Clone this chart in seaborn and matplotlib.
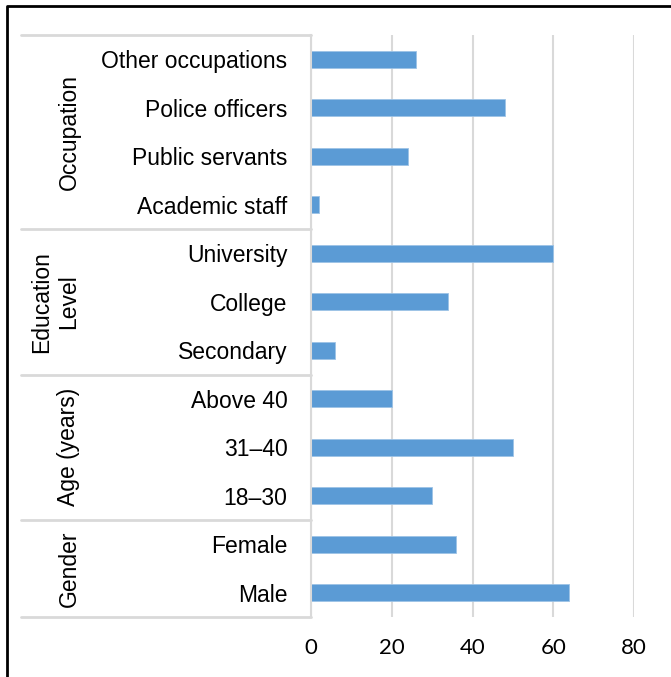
import matplotlib
matplotlib.use("Agg")
import matplotlib.pyplot as plt
import matplotlib.transforms as mtransforms
from matplotlib.lines import Line2D
import seaborn as sns
import pandas as pd

categories = ["Other occupations", "Police officers", "Public servants", "Academic staff",
              "University", "College", "Secondary",
              "Above 40", "31–40", "18–30",
              "Female", "Male"]
values = [26, 48, 24, 2, 60, 34, 6, 20, 50, 30, 36, 64]
groups = ["Occupation", "Education\nLevel", "Age (years)", "Gender"]
group_sizes = [4, 3, 3, 2]
x_ticks = [0, 20, 40, 60, 80]

W, H = 671, 677
sns.set_theme(style="white")
plt.rcParams['font.family'] = ["Liberation Sans", "DejaVu Sans"]
label_size = 16.5

fig = plt.figure(figsize=(W / 100, H / 100), dpi=100)
ax = fig.add_axes([311 / W, 1 - 617 / H, (634 - 311) / W, (617 - 35) / H])

df = pd.DataFrame({"category": categories, "value": values})
sns.barplot(data=df, y="category", x="value", order=categories, orient="h",
            color="#5B9BD5", width=0.35, saturation=1, ax=ax,
            edgecolor="#9DC3E6", linewidth=0.6)

ax.set_xlim(0, 80)
ax.set_ylim(len(categories) - 0.5, -0.5)
ax.set_xticks(x_ticks)
ax.set_xticklabels([str(t) for t in x_ticks], fontfamily="Lato", fontsize=16, color="#000000")
ax.grid(axis="x", color="#d9d9d9", linewidth=1.5)
ax.set_axisbelow(True)
for s in ["top", "right", "bottom"]:
    ax.spines[s].set_visible(False)
ax.spines["left"].set_color("#d9d9d9")
ax.spines["left"].set_linewidth(1.5)
ax.tick_params(axis="x", length=0, pad=15)
ax.tick_params(axis="y", length=0, pad=17)
for lab in ax.get_yticklabels():
    lab.set_fontsize(label_size)
    lab.set_color("#000000")
ax.set_xlabel("")
ax.set_ylabel("")

# Group separators and labels
blend = mtransforms.blended_transform_factory(fig.transFigure, ax.transData)
x0, x1 = 21 / W, 311 / W
start = -0.5
ax.add_line(Line2D([x0, x1], [start, start], transform=blend, color="#d9d9d9",
                   linewidth=2, clip_on=False))
for g, n in zip(groups, group_sizes):
    end = start + n
    ax.add_line(Line2D([x0, x1], [end, end], transform=blend, color="#d9d9d9",
                       linewidth=2, clip_on=False))
    center = (start + end) / 2
    xc = 55 / W if "\n" in g else 69 / W
    ax.text(xc, center, g, transform=blend, rotation=90, ha="center", va="center",
            fontsize=label_size, color="#000000", linespacing=1.2, multialignment="center")
    start = end

# Outer frame
fig.add_artist(Line2D([7 / W, 7 / W, 1.0], [0.0, 1 - 6 / H, 1 - 6 / H],
                      transform=fig.transFigure, color="black", linewidth=2))

fig.savefig("out.png", dpi=100)
